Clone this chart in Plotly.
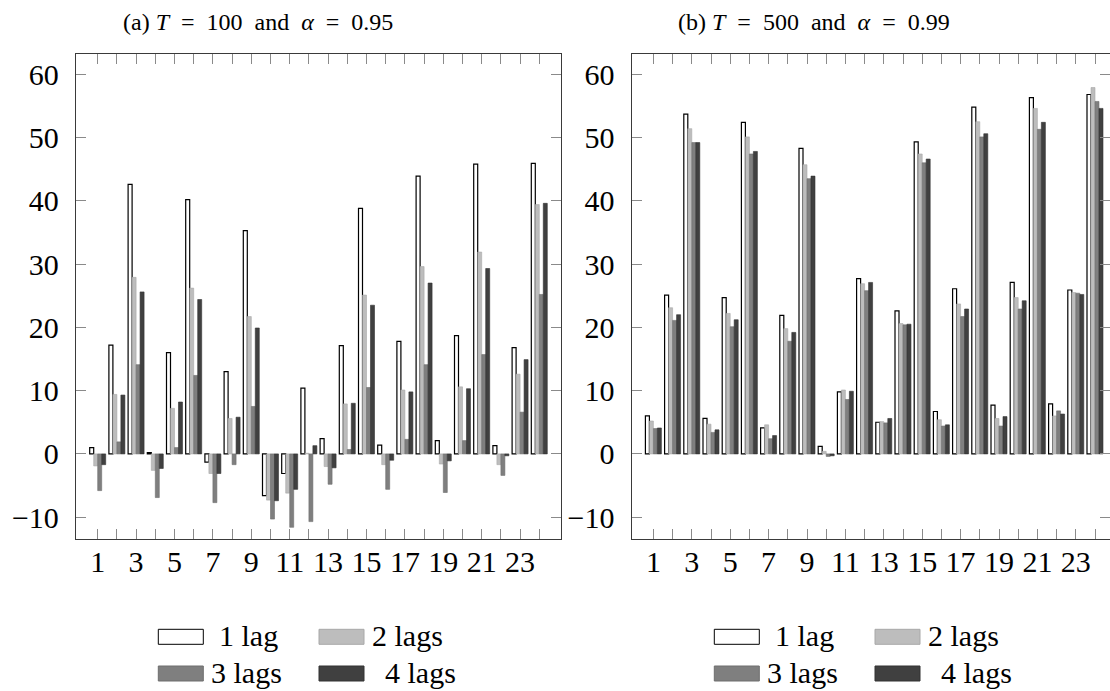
import plotly.graph_objects as go

W, H = 1110, 691

categories = list(range(1, 25))
x_tick_labels = [str(c) if c % 2 == 1 else "" for c in categories]
y_tick_vals = [-10, 0, 10, 20, 30, 40, 50, 60]
series_names = ["1 lag", "2 lags", "3 lags", "4 lags"]
panel_titles = ["(a) <i>T</i>\u00a0 =\u00a0 100\u00a0 and\u00a0 <i>α</i>\u00a0 =\u00a0 0.95",
                "(b) <i>T</i>\u00a0 =\u00a0 500\u00a0 and\u00a0 <i>α</i>\u00a0 =\u00a0 0.99"]

# Panel (a): T = 100, alpha = 0.95
a_lag1 = [1.0, 17.2, 42.6, 0.2, 16.0, 40.2, -1.3, 13.0, 35.3, -6.6, -3.1, 10.4,
          2.4, 17.1, 38.8, 1.4, 17.8, 43.9, 2.1, 18.7, 45.8, 1.3, 16.8, 45.9]
a_lag2 = [-1.9, 9.4, 27.9, -2.6, 7.2, 26.2, -3.1, 5.6, 21.7, -7.3, -6.2, 0.1,
          -2.0, 7.9, 25.1, -1.7, 10.1, 29.6, -1.6, 10.6, 31.9, -1.7, 12.6, 39.4]
a_lag3 = [-5.8, 1.9, 14.1, -6.9, 1.0, 12.4, -7.7, -1.7, 7.5, -10.3, -11.6, -10.7,
          -4.8, 0.7, 10.5, -5.6, 2.3, 14.1, -6.1, 2.1, 15.7, -3.4, 6.6, 25.2]
a_lag4 = [-1.7, 9.3, 25.6, -2.3, 8.2, 24.4, -3.1, 5.8, 19.9, -7.4, -5.6, 1.3,
          -2.2, 8.0, 23.5, -1.0, 9.8, 27.0, -1.1, 10.3, 29.3, -0.3, 14.9, 39.6]

# Panel (b): T = 500, alpha = 0.99
b_lag1 = [6.0, 25.1, 53.7, 5.6, 24.7, 52.4, 4.1, 21.9, 48.3, 1.2, 9.8, 27.7,
          5.0, 22.6, 49.3, 6.7, 26.1, 54.8, 7.7, 27.1, 56.3, 7.9, 25.9, 56.8]
b_lag2 = [5.2, 23.1, 51.4, 4.7, 22.2, 50.1, 4.6, 19.8, 45.7, 0.4, 10.1, 26.9,
          5.1, 20.6, 47.4, 5.4, 23.7, 52.5, 5.6, 24.7, 54.6, 6.0, 25.5, 57.9]
b_lag3 = [4.0, 21.1, 49.2, 3.4, 20.1, 47.4, 2.4, 17.8, 43.5, -0.4, 8.6, 25.8,
          4.9, 20.4, 46.0, 4.4, 21.7, 50.1, 4.4, 22.9, 51.3, 6.8, 25.4, 55.7]
b_lag4 = [4.1, 22.0, 49.2, 3.8, 21.2, 47.8, 2.9, 19.2, 43.9, -0.3, 9.9, 27.1,
          5.6, 20.5, 46.6, 4.6, 22.9, 50.6, 5.9, 24.2, 52.4, 6.3, 25.2, 54.6]

fills = ["#ffffff", "#bdbdbd", "#7f7f7f", "#404040"]
edges = ["#000000", "#a8a8a8", "#6e6e6e", "#333333"]
edge_w = [1.2, 0.6, 0.6, 0.6]

FONT = "Liberation Serif"

fig = go.Figure()
panels = [(["x", "y"], [a_lag1, a_lag2, a_lag3, a_lag4]),
          (["x2", "y2"], [b_lag1, b_lag2, b_lag3, b_lag4])]
for (xa, ya), series in panels:
    for i, vals in enumerate(series):
        fig.add_trace(go.Bar(
            x=categories, y=vals, name=series_names[i], xaxis=xa, yaxis=ya,
            offsetgroup=str(i), showlegend=False, hoverinfo="skip",
            marker=dict(color=fills[i], line=dict(color=edges[i], width=edge_w[i])),
        ))

def px_x(p):
    return p / W

def px_y(p):
    return 1 - p / H

axis_common = dict(
    showline=True, linecolor="#3a3a3a", linewidth=1.2, mirror="ticks",
    ticks="inside", ticklen=10, tickwidth=1, tickcolor="#8a8a8a",
    showgrid=False, zeroline=False,
    tickfont=dict(family=FONT, size=30, color="#000000"),
)

y_dom = [px_y(538.7), px_y(54)]
unit_px = 19.2
left_dom = [76, 561]
right_dom = [631.7, 1110]
x_lo = -0.13

fig.update_layout(
    width=W, height=H,
    margin=dict(l=0, r=0, t=0, b=0),
    paper_bgcolor="white", plot_bgcolor="white",
    barmode="group", bargap=0.167, bargroupgap=0.0,
    font=dict(family=FONT, color="#000000"),
    xaxis=dict(domain=[px_x(left_dom[0]), px_x(left_dom[1])], anchor="y",
               range=[x_lo, x_lo + (left_dom[1] - left_dom[0]) / unit_px],
               tickmode="array", tickvals=categories, ticktext=x_tick_labels,
               ticklabelstandoff=-4, **axis_common),
    yaxis=dict(domain=y_dom, anchor="x", range=[-13.4, 63.2],
               tickmode="array", tickvals=y_tick_vals,
               ticklabelstandoff=10, **axis_common),
    xaxis2=dict(domain=[px_x(right_dom[0]), px_x(right_dom[1])], anchor="y2",
                range=[x_lo, x_lo + (right_dom[1] - right_dom[0]) / unit_px],
                tickmode="array", tickvals=categories, ticktext=x_tick_labels,
                ticklabelstandoff=-4, **axis_common),
    yaxis2=dict(domain=y_dom, anchor="x2", range=[-13.4, 63.2],
                tickmode="array", tickvals=y_tick_vals,
                ticklabelstandoff=10, **axis_common),
)

annotations = []
shapes = []
offsets = [0, 556]
for k, off in enumerate(offsets):
    annotations.append(dict(
        text=panel_titles[k], xref="paper", yref="paper",
        x=px_x(258 + off), y=px_y(22), xanchor="center", yanchor="middle",
        showarrow=False, font=dict(family=FONT, size=24, color="#000000"),
    ))
    boxes = [(158.3, 629.3), (319, 629.3), (158.3, 666), (319, 666)]
    text_x = [216.7, 370, 209, 383]
    text_y = [635, 635, 672, 672]
    for i in range(4):
        bx, by = boxes[i]
        shapes.append(dict(
            type="rect", xref="paper", yref="paper",
            x0=px_x(bx + off), x1=px_x(bx + 45 + off),
            y0=px_y(by), y1=px_y(by + 15),
            fillcolor=fills[i],
            line=dict(color="#000000" if i == 0 else edges[i], width=1),
        ))
        annotations.append(dict(
            text=series_names[i], xref="paper", yref="paper",
            x=px_x(text_x[i] + off), y=px_y(text_y[i]),
            xanchor="left", yanchor="middle", showarrow=False,
            font=dict(family=FONT, size=30, color="#000000"),
        ))

fig.update_layout(annotations=annotations, shapes=shapes)

fig.write_html("out.html",
               config={"displayModeBar": False, "staticPlot": True},
               post_script="document.body.style.margin='0';document.body.style.overflow='hidden';")
